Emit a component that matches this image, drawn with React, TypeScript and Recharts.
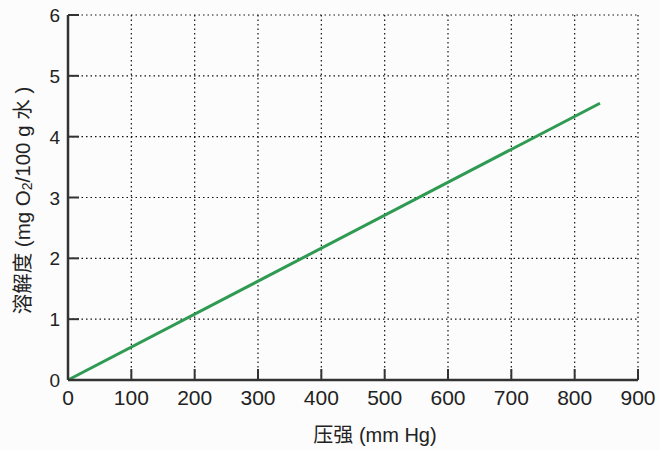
import React from "react"
import { LineChart, Line, XAxis, YAxis, CartesianGrid, Label } from "recharts"

const pressure = [0, 840]
const solubility = [0, 4.55]
const xTicks = [0, 100, 200, 300, 400, 500, 600, 700, 800, 900]
const yTicks = [0, 1, 2, 3, 4, 5, 6]

const data = pressure.map((p, i) => ({ p, s: solubility[i] }))

const FONT = "'Liberation Sans', Arial, 'Noto Sans CJK SC', sans-serif"
const AXIS = "#333"

const XTick = ({ x, y, payload }: any) => (
  <g>
    <line x1={x} y1={y} x2={x} y2={y - 11} stroke={AXIS} strokeWidth={2} />
    <text x={x} y={y + 25} textAnchor="middle" fontSize={21} fill="#222" fontFamily={FONT}>
      {payload.value}
    </text>
  </g>
)

const YTick = ({ x, y, payload }: any) => (
  <g>
    <line x1={x} y1={y} x2={x + 11} y2={y} stroke={AXIS} strokeWidth={2} />
    <text x={x - 8} y={y + 7} textAnchor="end" fontSize={19} fill="#222" fontFamily={FONT}>
      {payload.value}
    </text>
  </g>
)

const YLabel = ({ viewBox }: any) => {
  const cx = 22
  const cy = viewBox.y + viewBox.height / 2 + 3
  return (
    <text
      transform={`translate(${cx},${cy}) rotate(-90)`}
      textAnchor="middle"
      dominantBaseline="central"
      fontSize={20.5}
      fill="#222"
      fontFamily={FONT}
    >
      溶解度 (mg O
      <tspan fontSize={14} dy={5}>2</tspan>
      <tspan dy={-5}>/100 g 水 )</tspan>
    </text>
  )
}

export default function App() {
  return (
    <div style={{ position: "absolute", left: 0, top: 0, width: 660, height: 450, background: "#fcfcfc" }}>
      <LineChart width={660} height={450} data={data} margin={{ top: 15, right: 22, bottom: 0, left: 0 }}>
        <CartesianGrid stroke="#111" strokeDasharray="1.5 3" strokeWidth={1.2} />
        <XAxis
          dataKey="p"
          type="number"
          domain={[0, 900]}
          ticks={xTicks}
          height={70}
          tickSize={0}
          tickMargin={0}
          tickLine={false}
          tick={<XTick />}
          axisLine={{ stroke: AXIS, strokeWidth: 2.5 }}
          interval={0}
        >
          <Label
            value="压强 (mm Hg)"
            position="insideBottom"
            offset={8}
            dx={22}
            fontSize={20}
            fill="#222"
            fontFamily={FONT}
          />
        </XAxis>
        <YAxis
          type="number"
          domain={[0, 6]}
          ticks={yTicks}
          width={68}
          tickSize={0}
          tickMargin={0}
          tickLine={false}
          tick={<YTick />}
          axisLine={{ stroke: AXIS, strokeWidth: 2.5 }}
          interval={0}
        >
          <Label content={<YLabel />} />
        </YAxis>
        <Line
          dataKey="s"
          stroke="#2f9a52"
          strokeWidth={3}
          dot={false}
          isAnimationActive={false}
        />
      </LineChart>
    </div>
  )
}
